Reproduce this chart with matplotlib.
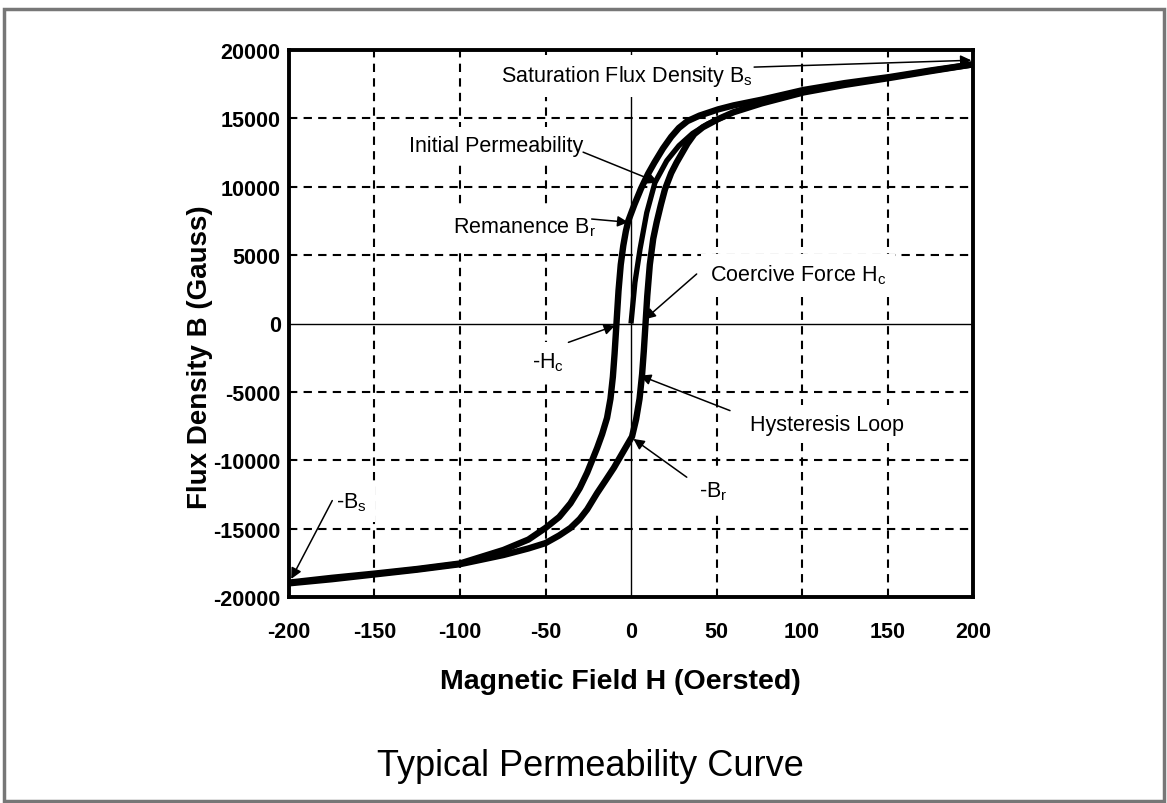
import matplotlib
matplotlib.use('Agg')
import matplotlib.pyplot as plt
from matplotlib import font_manager
from matplotlib.patches import Rectangle

# pick a font
names = set(f.name for f in font_manager.fontManager.ttflist)
fam = 'Liberation Sans' if 'Liberation Sans' in names else 'DejaVu Sans'
plt.rcParams['font.family'] = [fam, 'DejaVu Sans']
plt.rcParams['mathtext.fontset'] = 'custom'
plt.rcParams['mathtext.rm'] = fam
plt.rcParams['mathtext.it'] = fam

# descending branch of the loop (H from +200 to -200)
h_down = [200, 175, 151, 125, 101, 76.5, 60, 51, 40, 33, 28, 23.5, 18.7, 13.7, 10, 5.9, 2,
          -1.6, -3, -4.5, -6, -7.3, -8.3, -8.8, -9.6, -10.6, -12, -14, -16.9, -19.8, -25.6,
          -30, -35.4, -42, -50, -60, -74.6, -100, -125, -150, -175, -200]
b_down = [18950, 18500, 18020, 17580, 17080, 16370, 15950, 15660, 15200, 14800, 14300, 13650,
          12800, 11770, 10950, 9880, 8700, 7500, 6750, 5700, 4300, 2400, 400, -600, -2200, -3900,
          -5500, -6900, -8100, -9100, -10900, -12050, -13150, -14150, -14950, -15800, -16560,
          -17550, -17950, -18290, -18600, -18950]

# ascending branch (H from -200 to +200)
h_up = [-200, -175, -150, -125, -100, -74.6, -60, -50, -42, -35.4, -30, -25.6, -19.8, -15,
        -10, -4.2, 0.6, 3, 5, 6.5, 7.5, 8.5, 9.5, 11, 13, 15, 17.5, 19.9, 23.5, 26.7, 33, 37,
        42, 51, 60, 76.5, 101, 125, 151, 175, 200]
b_up = [-19000, -18700, -18350, -18000, -17600, -16930, -16450, -16060, -15500, -14950, -14300,
        -13590, -12400, -11500, -10550, -9300, -8270, -7000, -5500, -3700, -2000, 0, 2000, 4300,
        6200, 7400, 8700, 9830, 11000, 11780, 13150, 13850, 14350, 14950, 15450, 16100, 16900,
        17450, 17950, 18450, 18950]

# initial magnetisation curve
h_init = [0, 2.3, 5.3, 9.2, 14, 20.9, 28, 36, 45, 55]
b_init = [0, 3000, 5450, 8100, 10300, 11900, 13000, 13900, 14600, 15150]

xticks = [-200, -150, -100, -50, 0, 50, 100, 150, 200]
yticks = [-20000, -15000, -10000, -5000, 0, 5000, 10000, 15000, 20000]

# label, text left x, text y, arrow tail, arrow tip
notes = [
    ('Saturation Flux Density B$_\\mathrm{s}$', -76, 18100, (72, 18750), (199, 19250)),
    ('Initial Permeability', -130, 13000, (-28, 12530), (16, 10300)),
    ('Remanence B$_\\mathrm{r}$', -104, 7050, (-23, 7640), (-1.6, 7400)),
    ('Coercive Force H$_\\mathrm{c}$', 46, 3620, (38.4, 3620), (8, 300)),
    ('-H$_\\mathrm{c}$', -58, -2810, (-36.6, -1380), (-9.4, -160)),
    ('Hysteresis Loop', 69.5, -7350, (57.9, -6370), (5.3, -3810)),
    ('-B$_\\mathrm{r}$', 39.6, -12220, (32.6, -11240), (1.4, -8440)),
    ('-B$_\\mathrm{s}$', -172.7, -13060, (-174.7, -12950), (-198.7, -18680)),
]

W, Hh = 1167, 804
fig = plt.figure(figsize=(W / 100, Hh / 100), dpi=100)
ax = fig.add_axes([289 / W, 1 - 598 / Hh, (973 - 289) / W, (598 - 51) / Hh])

# dashed grid, solid zero lines
for x in xticks[1:-1]:
    if x == 0:
        ax.axvline(x, color='k', lw=1.0, zorder=1)
    else:
        ax.axvline(x, color='k', lw=1.5, ls=(0, (4, 3)), zorder=1)
for y in yticks[1:-1]:
    if y == 0:
        ax.axhline(y, color='k', lw=1.0, zorder=1)
    else:
        ax.axhline(y, color='k', lw=1.5, ls=(0, (4, 3)), zorder=1)

ax.plot(h_down, b_down, color='k', lw=4.6, solid_capstyle='butt', solid_joinstyle='round', zorder=5)
ax.plot(h_up, b_up, color='k', lw=4.6, solid_capstyle='butt', solid_joinstyle='round', zorder=5)
ax.plot(h_init, b_init, color='k', lw=3.8, solid_capstyle='butt', solid_joinstyle='round', zorder=5)

for label, tx, ty, tail, tip in notes:
    ax.text(tx, ty, label, fontsize=15.5, ha='left', va='center', zorder=3,
            bbox=dict(facecolor='white', edgecolor='none', pad=6))
    ax.annotate('', xy=tip, xytext=tail, zorder=6,
                arrowprops=dict(arrowstyle='-|>', color='k', lw=1.1, mutation_scale=16,
                                shrinkA=0, shrinkB=0))

ax.set_xlim(-200, 200)
ax.set_ylim(-20000, 20000)
ax.set_xticks(xticks)
ax.set_yticks(yticks)
ax.set_xticklabels([str(v) for v in xticks], fontsize=15.5, fontweight='bold')
ax.set_yticklabels([str(v) for v in yticks], fontsize=15.5, fontweight='bold')
ax.tick_params(axis='x', length=0, pad=17)
ax.tick_params(axis='y', length=0, pad=6)
for s in ax.spines.values():
    s.set_linewidth(2.8)
    s.set_zorder(7)

fig.text(200 / W, 1 - 357 / Hh, 'Flux Density B (Gauss)', rotation=90, fontsize=20,
         fontweight='bold', ha='center', va='center')
fig.text(620 / W, 1 - 682 / Hh, 'Magnetic Field H (Oersted)', fontsize=20.5,
         fontweight='bold', ha='center', va='center')
fig.text(590 / W, 1 - 767 / Hh, 'Typical Permeability Curve', fontsize=26,
         ha='center', va='center')

# outer frame
fig.patches.append(Rectangle((4 / W, 2 / Hh), 1160 / W, 792 / Hh, transform=fig.transFigure,
                             fill=False, edgecolor='#777777', lw=2.5))

fig.savefig('out.png', dpi=100)
